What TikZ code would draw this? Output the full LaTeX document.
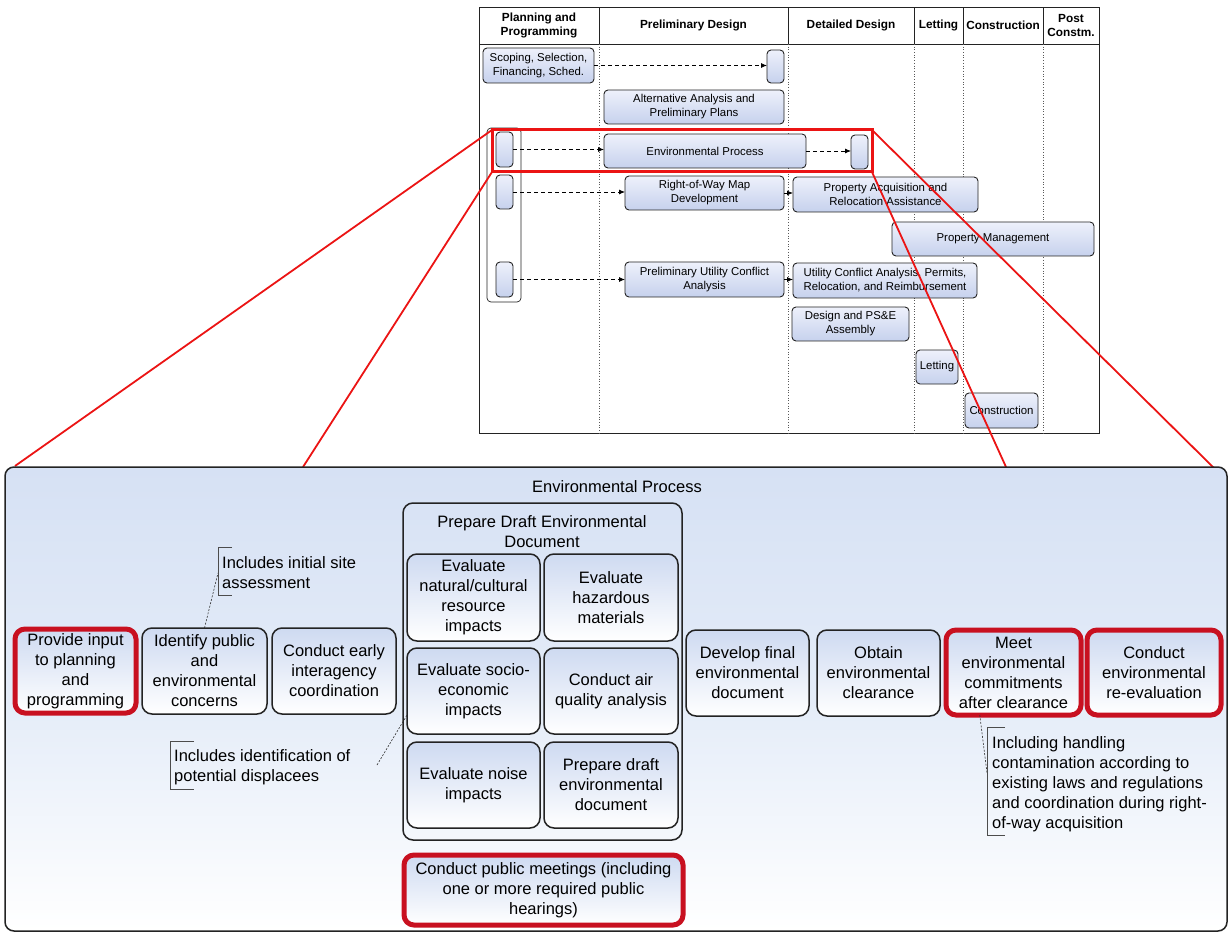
\documentclass[tikz,border=0pt]{standalone}
\usepackage{fontspec}
\setmainfont{Liberation Sans}
\usetikzlibrary{arrows.meta,calc}
\definecolor{redbox}{RGB}{200,16,32}
\definecolor{redline}{RGB}{235,20,20}
\definecolor{pbtop}{RGB}{214,225,244}
\definecolor{pbmid}{RGB}{228,236,248}
\definecolor{bxtop}{RGB}{206,218,241}
\definecolor{cbtop}{RGB}{238,241,251}
\definecolor{cbbot}{RGB}{198,209,237}
\definecolor{edge}{RGB}{35,35,35}
\newcommand\mybox[7]{\node[#6, minimum width={#4-#2}, minimum height={#5-#3}] (#1) at ({(#2+#4)/2},{(#3+#5)/2}) {#7};}
\begin{document}
\begin{tikzpicture}[x=1pt,y=-1pt,
  frame/.style={draw=edge, line width=0.9pt, inner sep=0pt, outer sep=0pt},
  hcell/.style={frame, align=center, font=\bfseries\fontsize{11.8}{14}\selectfont},
  cbox/.style={draw=edge, line width=0.9pt, rounded corners=4pt, top color=cbtop, bottom color=cbbot, inner sep=0pt, outer sep=0pt, align=center, font=\fontsize{11.4}{14}\selectfont},
  gbox/.style={draw=edge, line width=0.7pt, rounded corners=4pt, inner sep=0pt, outer sep=0pt},
  coldiv/.style={draw=gray!70!black, line width=0.7pt, dotted},
  pbox/.style={draw=edge, line width=1.5pt, rounded corners=10pt, top color=bxtop, bottom color=white, inner sep=0pt, outer sep=0pt, align=center, font=\fontsize{16.5}{20}\selectfont},
  rbox/.style={pbox, draw=redbox, line width=5pt},
  grp/.style={draw=edge, line width=1.5pt, rounded corners=10pt, inner sep=0pt, outer sep=0pt},
  panelbox/.style={draw=edge, line width=1.5pt, rounded corners=9pt, top color=pbtop, bottom color=white, middle color=pbmid, inner sep=0pt, outer sep=0pt},
  ttl/.style={align=center, inner sep=0pt, font=\fontsize{16.5}{20}\selectfont},
  dasharr/.style={draw=black, line width=0.8pt, dash pattern=on 4pt off 3pt, -{Latex[length=6pt,width=5pt]}},
  solarr/.style={draw=black, line width=0.8pt, -{Latex[length=6pt,width=5pt]}},
  note/.style={align=left, inner sep=0pt, anchor=north west, font=\fontsize{16.5}{20}\selectfont},
  brk/.style={draw=gray!60!black, line width=0.7pt},
  lead/.style={draw=gray!40!black, line width=0.6pt, dash pattern=on 2pt off 1.5pt},
  zoomline/.style={draw=redline, line width=1.8pt}
]
\useasboundingbox (0,0) rectangle (1229,933);

% ---------- top chart ----------
\mybox{chart}{479}{7}{1099}{433}{frame}{}
\mybox{h1}{479}{7}{599}{44}{hcell}{Planning and\\Programming}
\mybox{h2}{599}{7}{788}{44}{hcell}{Preliminary Design}
\mybox{h3}{788}{7}{914}{44}{hcell}{Detailed Design}
\mybox{h4}{914}{7}{963}{44}{hcell}{Letting}
\mybox{h5}{963}{7}{1043}{44}{hcell}{Construction}
\mybox{h6}{1043}{7}{1099}{44}{hcell}{Post\\Constm.}
\foreach \h in {h1,h2,h3,h4,h5} \draw[coldiv] (\h.south east) -- (\h.south east |- chart.south);

\mybox{gl}{487}{128}{521}{302}{gbox}{}
\mybox{scoping}{483}{48}{594}{83}{cbox}{Scoping, Selection,\\Financing, Sched.}
\mybox{s1}{767}{50}{784}{83}{cbox}{}
\mybox{alt}{604}{90}{784}{124}{cbox}{Alternative Analysis and\\Preliminary Plans}
\mybox{e0}{496}{132}{513}{167}{cbox}{}
\mybox{env}{604}{134}{806}{168}{cbox}{Environmental Process}
\mybox{e1}{851}{135}{868}{169}{cbox}{}
\mybox{r0}{496}{175}{513}{209}{cbox}{}
\mybox{row}{625}{176}{784}{210}{cbox}{Right-of-Way Map\\Development}
\mybox{pa}{793}{177}{978}{212}{cbox}{Property Acquisition and\\Relocation Assistance}
\mybox{pm}{892}{222}{1094}{256}{cbox}{Property Management}
\mybox{u0}{496}{262}{513}{297}{cbox}{}
\mybox{puc}{625}{262}{784}{297}{cbox}{Preliminary Utility Conflict\\Analysis}
\mybox{uca}{793}{263}{977}{298}{cbox}{Utility Conflict Analysis, Permits,\\Relocation, and Reimbursement}
\mybox{des}{792}{307}{909}{341}{cbox}{Design and PS\&E\\Assembly}
\mybox{let}{916}{350}{958}{384}{cbox}{Letting}
\mybox{con}{965}{393}{1038}{428}{cbox}{Construction}

\draw[dasharr] (scoping.east) -- (scoping.east -| s1.west);
\draw[dasharr] (e0.east) -- (e0.east -| env.west);
\draw[dasharr] (env.east) -- (env.east -| e1.west);
\draw[dasharr] (r0.east) -- (r0.east -| row.west);
\draw[solarr] (row.east) -- (row.east -| pa.west);
\draw[dasharr] (u0.east) -- (u0.east -| puc.west);
\draw[solarr] (puc.east) -- (puc.east -| uca.west);

% ---------- zoom marker ----------
\mybox{zoomrect}{492}{130}{872}{172}{draw=redline, line width=3pt, inner sep=0pt, outer sep=0pt}{}
\coordinate (z1) at (15,466);
\coordinate (z2) at (303,467);
\coordinate (z3) at (1006,467);
\coordinate (z4) at (1216,470);
\draw[zoomline] (zoomrect.north west) -- (z1);
\draw[zoomline] (zoomrect.south west) -- (z2);
\draw[zoomline] (zoomrect.south east) -- (z3);
\draw[zoomline] (zoomrect.north east) -- (z4);

% ---------- detail panel ----------
\mybox{panel}{5}{467}{1227}{931}{panelbox}{}
\node[ttl] (ptitle) at (617,487) {Environmental Process};

\mybox{pin}{15}{629}{136}{713}{rbox}{Provide input\\to planning\\and\\programming}
\mybox{ident}{142}{628}{267}{714}{pbox}{Identify public\\and\\environmental\\concerns}
\mybox{early}{272}{628}{396}{714}{pbox}{Conduct early\\interagency\\coordination}

\mybox{grp}{403}{503}{682}{840}{grp}{}
\node[ttl] (gtitle) at (542,531.5) {Prepare Draft Environmental\\Document};
\mybox{natural}{407}{554}{540}{641}{pbox}{Evaluate\\natural/cultural\\resource\\impacts}
\mybox{hazard}{544}{554}{678}{641}{pbox}{Evaluate\\hazardous\\materials}
\mybox{socio}{407}{648}{540}{734}{pbox}{Evaluate socio-\\economic\\impacts}
\mybox{air}{544}{648}{678}{734}{pbox}{Conduct air\\quality analysis}
\mybox{noise}{407}{742}{540}{828}{pbox}{Evaluate noise\\impacts}
\mybox{draft}{544}{742}{678}{828}{pbox}{Prepare draft\\environmental\\document}
\mybox{meetings}{404}{855}{683}{925}{rbox}{Conduct public meetings (including\\one or more required public\\hearings)}

\mybox{final}{686}{630}{809}{716}{pbox}{Develop final\\environmental\\document}
\mybox{obtain}{817}{630}{940}{716}{pbox}{Obtain\\environmental\\clearance}
\mybox{meet}{946}{630}{1081}{715}{rbox}{Meet\\environmental\\commitments\\after clearance}
\mybox{reeval}{1087}{630}{1221}{715}{rbox}{Conduct\\environmental\\re-evaluation}

% ---------- annotations ----------
\coordinate (b1) at (218,573);
\draw[lead] (ident.north) -- (b1);
\draw[brk] (232,547) -- (218,547) -- (218,595) -- (232,595);
\node[note] (n1) at (222,556) {Includes initial site\\assessment};

\coordinate (a2) at (377,765);
\draw[lead] (a2) -- ($(socio.south west)!0.22!(socio.north west)$);
\draw[brk] (194,741) -- (170,741) -- (170,789) -- (194,789);
\node[note] (n2) at (174,749) {Includes identification of\\potential displacees};

\coordinate (b3) at (987,773);
\draw[lead] ($(meet.south west)!0.25!(meet.south east)$) -- (b3);
\draw[brk] (1005,727) -- (987,727) -- (987,835) -- (1005,835);
\node[note] (n3) at (992,736) {Including handling\\contamination according to\\existing laws and regulations\\and coordination during right-\\of-way acquisition};
\end{tikzpicture}
\end{document}
